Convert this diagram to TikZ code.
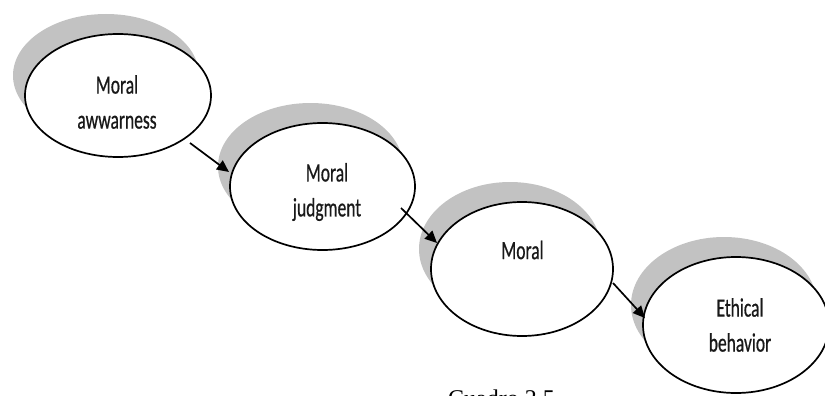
\documentclass[tikz,border=0pt]{standalone}
\usepackage{fontspec}
\usetikzlibrary{shapes.geometric,arrows.meta,calc}
\newfontfamily\diagfont[FakeStretch=0.66,FakeBold=0.6]{Carlito}
\newfontfamily\capfont{Liberation Serif}
\tikzset{
  oval/.style={ellipse, draw=black, line width=1.7pt, fill=white, inner sep=0pt},
  shade/.style={ellipse, fill=black!24, draw=none, inner sep=0pt},
  txt/.style={align=center, text=black!90, inner sep=0pt, font=\diagfont\fontsize{26.5}{35}\selectfont},
  arr/.style={line width=1.7pt, -{Triangle[length=12pt,width=11pt]}},
}
\begin{document}
\begin{tikzpicture}[x=1pt,y=-1pt]
\useasboundingbox (0,0) rectangle (825,396);
\clip (0,0) rectangle (825,396);
% shadows
\node[shade, minimum width=186pt, minimum height=123pt] (s1) at (106,75.5) {};
\node[shade, minimum width=185pt, minimum height=127pt] (s2) at (310.5,166.5) {};
\node[shade, minimum width=182pt, minimum height=134pt] (s3) at (510,249) {};
\node[shade, minimum width=186pt, minimum height=136pt] (s4) at (724,305) {};
% ellipses
\node[oval, minimum width=186pt, minimum height=123pt] (e1) at (118,95.5) {};
\node[oval, minimum width=185pt, minimum height=127pt] (e2) at (322.5,186.5) {};
\node[oval, minimum width=182pt, minimum height=134pt] (e3) at (522,269) {};
\node[oval, minimum width=186pt, minimum height=136pt] (e4) at (736,325) {};
% texts
\node[txt] (t1) at (117,102) {Moral\\awwarness};
\node[txt] (t2) at (327,192) {Moral\\judgment};
\node[txt] (t3) at (522.5,250) {Moral};
\node[txt] (t4) at (740,325) {Ethical\\behavior};
% arrows
\draw[arr] ($(e1.center)+(72,47.5)$) -- ($(e2.center)+(-93.5,-14.5)$);
\draw[arr] ($(e2.center)+(78.5,21.5)$) -- ($(e3.center)+(-85,-26)$);
\draw[arr] ($(e3.center)+(91,14)$) -- ($(e4.center)+(-91,-7)$);
% caption (cut off at the bottom edge, as in the reference)
\node[anchor=base west, inner sep=0pt, font=\capfont\fontsize{24}{28}\selectfont] (cap) at (448,406) {Cuadro 2.5};
\end{tikzpicture}
\end{document}
